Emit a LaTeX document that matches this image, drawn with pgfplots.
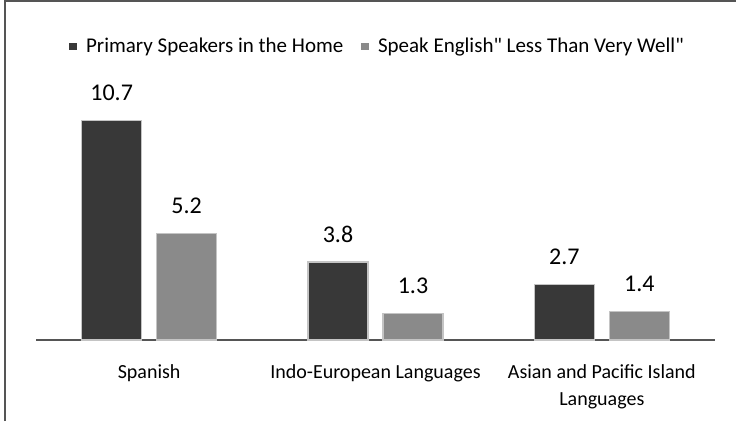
\documentclass[border=0pt]{standalone}
\usepackage{fontspec}
\setmainfont{Carlito}[Ligatures=TeXOff]
\usepackage{pgfplots}
\pgfplotsset{compat=1.18}
\definecolor{darkbar}{HTML}{383838}
\definecolor{lightbar}{HTML}{8A8A8A}
\definecolor{edge}{HTML}{C4C4C4}
\definecolor{axisgray}{HTML}{555555}
\begin{document}
\begin{tikzpicture}[x=1bp,y=1bp]
\path[use as bounding box] (0,0) rectangle (736,421);
\draw[axisgray, line width=1.5bp] (5,0) -- (5,420) -- (736,420);
\begin{axis}[
  at={(36bp,81bp)}, anchor=south west,
  scale only axis, width=679bp, height=246bp,
  ybar, bar width=60bp, ybar=15bp,
  xmin=-0.5, xmax=2.5, ymin=0, ymax=12,
  axis x line=bottom, axis y line=none,
  x axis line style={-, axisgray, line width=1.3bp},
  xtick={0,1,2}, xtick style={draw=none},
  xticklabels={Spanish, Indo-European Languages, {Asian and Pacific Island\\Languages}},
  xticklabel style={font=\fontsize{20bp}{27bp}\selectfont, align=center, inner sep=0pt, yshift=-22bp, text=black},
  ytick=\empty,
  point meta=explicit symbolic,
  nodes near coords,
  every node near coord/.append style={font=\fontsize{24bp}{28bp}\selectfont, inner sep=0pt, anchor=south, yshift=19bp, text=black},
  legend style={at={(0.503,1.195)}, anchor=center, draw=none, fill=none,
    font=\fontsize{21bp}{24bp}\selectfont, legend columns=2,
    /tikz/every even column/.append style={column sep=16bp}},
  legend image code/.code={\fill[#1,draw=none] (0bp,-3.5bp) rectangle (7.5bp,3.5bp); \path (14bp,0bp);},
]
\addplot[fill=darkbar, draw=edge, line width=1.5bp] coordinates {(0,10.7)[10.7] (1,3.8)[3.8] (2,2.7)[2.7]};
\addplot[fill=lightbar, draw=edge, line width=1.5bp] coordinates {(0,5.2)[5.2] (1,1.3)[1.3] (2,1.4)[1.4]};
\legend{Primary Speakers in the Home, Speak English" Less Than Very Well"}
\end{axis}
\end{tikzpicture}
\end{document}
